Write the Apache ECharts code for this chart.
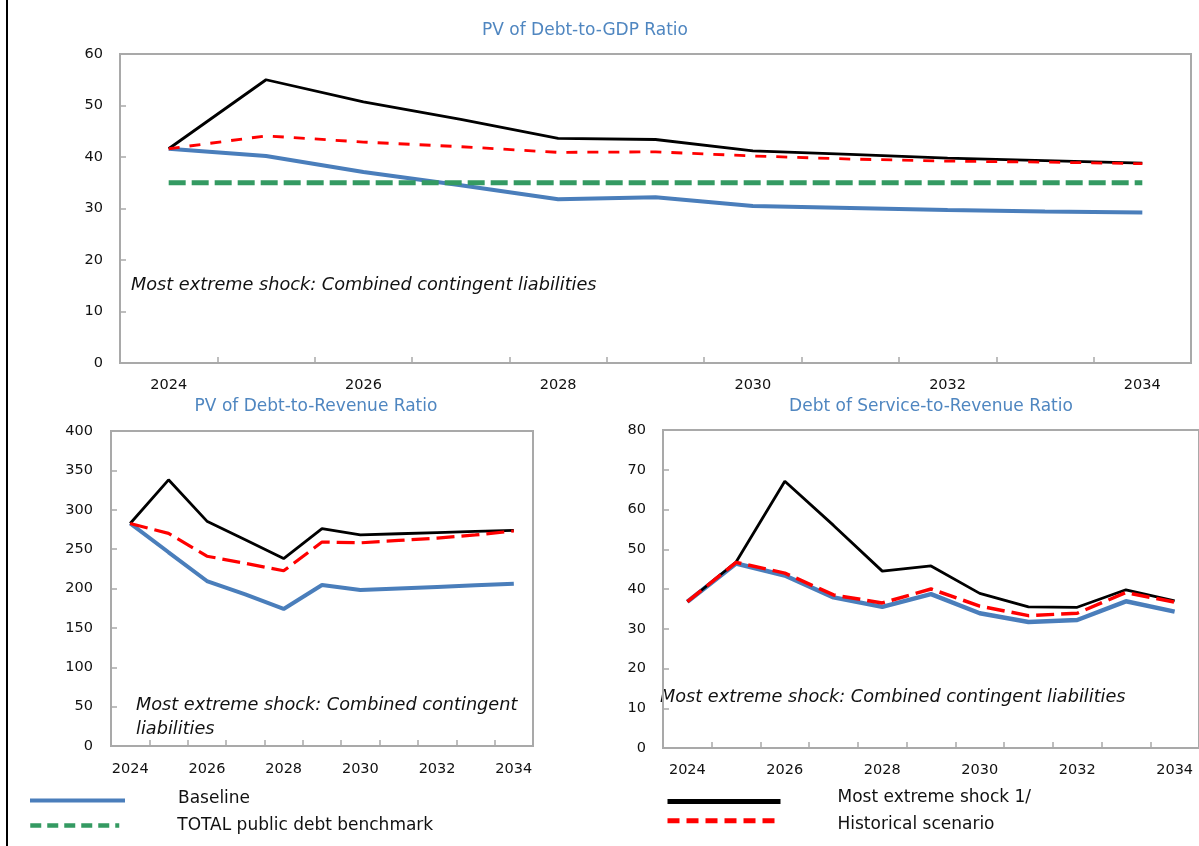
<!DOCTYPE html>
<html>
<head>
<meta charset="utf-8">
<title>Debt sustainability scenarios</title>
<script src="https://cdn.jsdelivr.net/npm/echarts@6/dist/echarts.min.js"></script>
<style>
  html, body { margin: 0; padding: 0; background: #ffffff; }
  #chart { width: 1199px; height: 846px; }
</style>
</head>
<body>
<div id="chart"></div>
<script>
// Projection years shared by all three panels
var years = ['2024', '2025', '2026', '2027', '2028', '2029', '2030', '2031', '2032', '2033', '2034'];

// PV of Debt-to-GDP ratio
var gdpBaseline   = [41.6, 40.2, 37.1, 34.5, 31.8, 32.2, 30.5, 30.1, 29.7, 29.4, 29.2];
var gdpShock      = [41.6, 55.0, 50.7, 47.3, 43.6, 43.4, 41.2, 40.5, 39.8, 39.3, 38.8];
var gdpHistorical = [41.6, 44.1, 42.9, 42.0, 40.9, 41.0, 40.2, 39.6, 39.2, 39.0, 38.7];
var gdpBenchmark  = [35, 35, 35, 35, 35, 35, 35, 35, 35, 35, 35];

// PV of Debt-to-Revenue ratio
var revBaseline   = [282.6, 246, 209.5, 192.5, 174, 204.5, 198, 200, 202, 204, 206];
var revShock      = [282.6, 338, 285.5, 262, 238, 276, 268, 269.5, 271, 272.5, 273.7];
var revHistorical = [282.6, 270, 241, 232, 222.5, 259, 258, 261, 264, 268, 273];

// Debt service-to-Revenue ratio
var dsBaseline   = [36.8, 46.4, 43.4, 37.9, 35.5, 38.7, 33.9, 31.7, 32.2, 36.9, 34.3];
var dsShock      = [36.8, 46.8, 67.1, 56.0, 44.5, 45.8, 38.9, 35.5, 35.4, 39.8, 37.0];
var dsHistorical = [36.8, 46.7, 44.0, 38.5, 36.5, 40.0, 35.7, 33.3, 33.9, 39.1, 36.7];

// Panel titles, annotation and legend names
var panelTitles = ['PV of Debt-to-GDP Ratio', 'PV of Debt-to-Revenue Ratio', 'Debt of Service-to-Revenue Ratio'];
var shockNote = 'Most extreme shock: Combined contingent liabilities';
var shockNoteLines = ['Most extreme shock: Combined contingent', 'liabilities'];
var names = {
  baseline: 'Baseline',
  benchmark: 'TOTAL public debt benchmark',
  shock: 'Most extreme shock 1/',
  historical: 'Historical scenario'
};

var FONT = '"DejaVu Sans", Verdana, sans-serif';
var BLUE = '#4A7EBB';
var GREEN = '#349A62';
var RED = '#FF0000';
var BLACK = '#000000';
var FRAME = '#A9A9A9';
var TITLE = '#4F86C0';
var TICK_SIZE = 14.5;

function xAxisFor(gridIndex, margin) {
  return {
    type: 'category', gridIndex: gridIndex, data: years, boundaryGap: true,
    axisLine: { show: true, lineStyle: { color: FRAME, width: 2 } },
    axisTick: { show: true, inside: true, length: 6, interval: 0, lineStyle: { color: FRAME, width: 1.5 } },
    axisLabel: { interval: 1, margin: margin, color: '#111', fontFamily: FONT, fontSize: TICK_SIZE },
    splitLine: { show: false }
  };
}
function yAxisFor(gridIndex, max, interval, margin) {
  return {
    type: 'value', gridIndex: gridIndex, min: 0, max: max, interval: interval,
    axisLine: { show: true, lineStyle: { color: FRAME, width: 2 } },
    axisTick: { show: true, inside: true, length: 6, lineStyle: { color: FRAME, width: 1.5 } },
    axisLabel: { margin: margin, color: '#111', fontFamily: FONT, fontSize: TICK_SIZE },
    splitLine: { show: false }
  };
}
function line(name, idx, data, color, width, dash, z) {
  return {
    type: 'line', name: name, xAxisIndex: idx, yAxisIndex: idx, data: data,
    symbol: 'none', smooth: false, z: z, animation: false,
    lineStyle: { color: color, width: width, type: dash || 'solid', cap: 'butt' },
    itemStyle: { color: color }
  };
}
// One legend block per entry; textPad = [top, right, bottom, left] of the label box
function legendFor(name, left, top, iconW, lineW, dash, textPad) {
  return {
    data: [name], left: left, top: top, orient: 'horizontal', padding: 0,
    itemWidth: iconW, itemHeight: 12, selectedMode: false,
    lineStyle: { width: lineW, type: dash || 'inherit' },
    itemStyle: { opacity: 0 },
    formatter: '{t|{name}}',
    textStyle: {
      fontFamily: FONT, fontSize: 17, color: '#111',
      rich: { t: { fontFamily: FONT, fontSize: 17, color: '#111', padding: textPad } }
    }
  };
}
function textEl(text, x, y, opts) {
  return {
    type: 'text', x: x, y: y, silent: true,
    style: Object.assign({
      text: text, fill: '#111', fontFamily: FONT, fontSize: 16,
      verticalAlign: 'middle', align: 'left'
    }, opts || {})
  };
}

var chart = echarts.init(document.getElementById('chart'), null, { renderer: 'canvas' });

chart.setOption({
  backgroundColor: '#ffffff',
  animation: false,
  grid: [
    { left: 120, top: 54, width: 1071, height: 309, show: true, borderColor: FRAME, borderWidth: 2, containLabel: false },
    { left: 111, top: 431, width: 422, height: 315, show: true, borderColor: FRAME, borderWidth: 2, containLabel: false },
    { left: 663, top: 430, width: 541, height: 318, show: true, borderColor: FRAME, borderWidth: 2, containLabel: false }
  ],
  xAxis: [xAxisFor(0, 15), xAxisFor(1, 16), xAxisFor(2, 15)],
  yAxis: [yAxisFor(0, 60, 10, 17), yAxisFor(1, 400, 50, 18), yAxisFor(2, 80, 10, 17)],
  legend: [
    legendFor(names.baseline, 28, 790, 95, 4, null, [0, 0, 4, 48]),
    legendFor(names.benchmark, 28, 817, 89, 4.5, [11, 6], [0, 0, 0, 53]),
    legendFor(names.shock, 665, 789, 113, 5, null, [0, 0, 8, 52]),
    legendFor(names.historical, 665, 816, 113, 5, [12, 7], [8, 0, 0, 52])
  ],
  series: [
    line(names.baseline, 0, gdpBaseline, BLUE, 4, null, 2),
    line(names.benchmark, 0, gdpBenchmark, GREEN, 5, [17, 6], 3),
    line(names.shock, 0, gdpShock, BLACK, 2.8, null, 4),
    line(names.historical, 0, gdpHistorical, RED, 2.8, [11, 10], 5),

    line(names.baseline, 1, revBaseline, BLUE, 4, null, 2),
    line(names.shock, 1, revShock, BLACK, 2.8, null, 4),
    line(names.historical, 1, revHistorical, RED, 3.2, [18, 7], 5),

    line(names.baseline, 2, dsBaseline, BLUE, 4.5, null, 2),
    line(names.shock, 2, dsShock, BLACK, 2.8, null, 4),
    line(names.historical, 2, dsHistorical, RED, 3.5, [18, 7], 5)
  ],
  graphic: [
    { type: 'rect', shape: { x: 6, y: 0, width: 2, height: 846 }, style: { fill: '#000' }, silent: true },
    textEl(panelTitles[0], 585, 31, { align: 'center', fill: TITLE, fontSize: 17 }),
    textEl(panelTitles[1], 316, 407, { align: 'center', fill: TITLE, fontSize: 17 }),
    textEl(panelTitles[2], 931, 407, { align: 'center', fill: TITLE, fontSize: 17 }),
    textEl(shockNote, 131, 285, { fontStyle: 'italic', fontSize: 17.7 }),
    textEl(shockNoteLines[0], 136, 705, { fontStyle: 'italic', fontSize: 17.7 }),
    textEl(shockNoteLines[1], 136, 729, { fontStyle: 'italic', fontSize: 17.7 }),
    textEl(shockNote, 660, 697, { fontStyle: 'italic', fontSize: 17.7 })
  ]
});
</script>
</body>
</html>
